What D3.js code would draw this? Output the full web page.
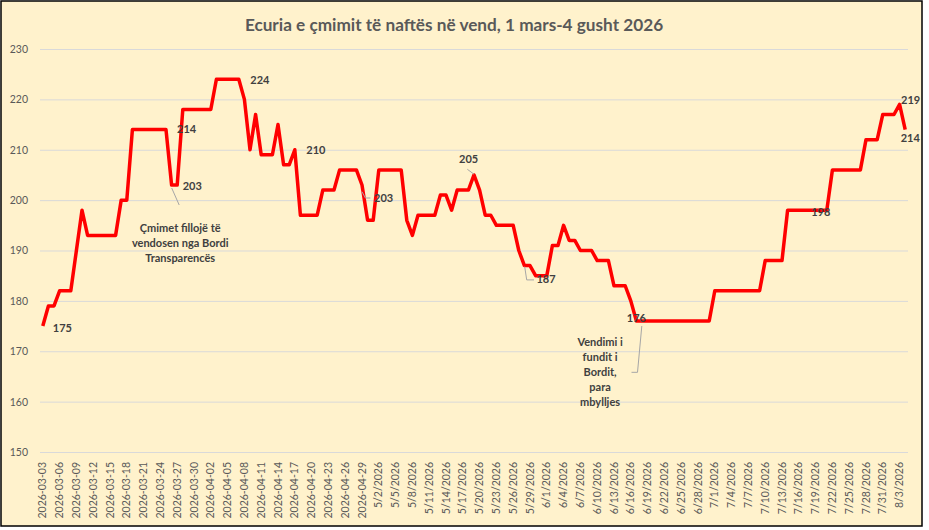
<!DOCTYPE html>
<html>
<head>
<meta charset="utf-8">
<script src="https://cdn.jsdelivr.net/npm/d3@7"></script>
<style>
  body { margin: 0; background: #fff; }
  text { font-family: Lato, "Open Sans", sans-serif; }
</style>
</head>
<body>
<div id="chart"></div>
<script>
const title = "Ecuria e çmimit të naftës në vend, 1 mars-4 gusht 2026";

// daily prices, 3 March - 4 August 2026
const prices = [
  175,179,179,182,182,182,190,198,193,193,
  193,193,193,193,200,200,214,214,214,214,
  214,214,214,203,203,218,218,218,218,218,
  218,224,224,224,224,224,220,210,217,209,
  209,209,215,207,207,210,197,197,197,197,
  202,202,202,206,206,206,206,203,196,196,
  206,206,206,206,206,196,193,197,197,197,
  197,201,201,198,202,202,202,205,202,197,
  197,195,195,195,195,190,187,187,185,185,
  185,191,191,195,192,192,190,190,190,188,
  188,188,183,183,183,180,176,176,176,176,
  176,176,176,176,176,176,176,176,176,176,
  182,182,182,182,182,182,182,182,182,188,
  188,188,188,198,198,198,198,198,198,198,
  198,206,206,206,206,206,206,212,212,212,
  217,217,217,219,214
];

const tickLabels = [
  "2026-03-03","2026-03-06","2026-03-09","2026-03-12","2026-03-15","2026-03-18",
  "2026-03-21","2026-03-24","2026-03-27","2026-03-30","2026-04-02","2026-04-05",
  "2026-04-08","2026-04-11","2026-04-14","2026-04-17","2026-04-20","2026-04-23",
  "2026-04-26","2026-04-29","5/2/2026","5/5/2026","5/8/2026","5/11/2026",
  "5/14/2026","5/17/2026","5/20/2026","5/23/2026","5/26/2026","5/29/2026",
  "6/1/2026","6/4/2026","6/7/2026","6/10/2026","6/13/2026","6/16/2026",
  "6/19/2026","6/22/2026","6/25/2026","6/28/2026","7/1/2026","7/4/2026",
  "7/7/2026","7/10/2026","7/13/2026","7/16/2026","7/19/2026","7/22/2026",
  "7/25/2026","7/28/2026","7/31/2026","8/3/2026"
];

const yTicks = [150, 160, 170, 180, 190, 200, 210, 220, 230];

// which points carry a value label
const labelIdx = [0, 22, 24, 35, 45, 57, 77, 86, 106, 140, 153, 154];

const note1 = ["Çmimet fillojë të", "vendosen nga Bordi", "Transparencës"];
const note2 = ["Vendimi i", "fundit i", "Bordit,", "para", "mbylljes"];

const W = 929, H = 530;
const plot = {left: 40, right: 908, top: 49, bottom: 452};

const start = new Date(Date.UTC(2026, 2, 3));
const dates = prices.map((_, i) => d3.utcDay.offset(start, i));

const svg = d3.select("#chart").append("svg")
    .attr("width", W).attr("height", H);

svg.append("rect")
    .attr("x", 1).attr("y", 1).attr("width", 921).attr("height", 525)
    .attr("fill", "#FFF2CC").attr("stroke", "#000").attr("stroke-width", 1.5);

const x = d3.scaleUtc()
    .domain([d3.utcHour.offset(dates[0], -12), d3.utcHour.offset(dates[dates.length - 1], 12)])
    .range([plot.left, plot.right]);

const y = d3.scaleLinear()
    .domain([150, 230])
    .range([plot.bottom, plot.top]);

// gridlines + y labels
const yAxis = svg.append("g")
    .attr("transform", `translate(${plot.left},0)`)
    .call(d3.axisLeft(y).tickValues(yTicks).tickSize(-(plot.right - plot.left)).tickPadding(12));
yAxis.select(".domain").remove();
yAxis.selectAll("line").attr("stroke", "#d9d9d9").attr("stroke-width", 1);
yAxis.selectAll("text")
    .attr("fill", "#595959").style("font-size", "10.5px");

// x labels, every third day
const tickDates = dates.filter((d, i) => i % 3 === 0);
svg.append("g").selectAll("text")
  .data(tickDates)
  .enter().append("text")
    .attr("transform", d => `translate(${x(d)},462)rotate(-90)`)
    .attr("dy", "0.35em")
    .attr("text-anchor", "end")
    .attr("fill", "#595959")
    .style("font-size", "10.5px")
    .text((d, i) => tickLabels[i]);

svg.append("text")
    .attr("x", 454).attr("y", 31)
    .attr("text-anchor", "middle")
    .attr("fill", "#595959")
    .style("font-size", "17.2px").style("font-weight", "bold")
    .text(title);

const line = d3.line()
    .x((d, i) => x(dates[i]))
    .y(d => y(d));

svg.append("path")
    .datum(prices)
    .attr("fill", "none")
    .attr("stroke", "#FF0000")
    .attr("stroke-width", 3.5)
    .attr("stroke-linejoin", "round")
    .attr("d", line);

// label placement relative to its point: [dx, dy, anchor]
const labelPos = {
  0: [10, 2, "start"], 22: [11, 0, "start"], 24: [5.5, 1.5, "start"],
  35: [11.5, 1, "start"], 45: [11.5, 0, "start"], 57: [12, 13, "start"],
  77: [-15, -15.7, "start"], 86: [12, 14, "start"], 106: [0, -3, "middle"],
  140: [-15.6, 1.7, "start"], 153: [1.5, -4.4, "start"], 154: [-4.5, 8.7, "start"]
};

const px = i => x(dates[i]), py = i => y(prices[i]);

// leader lines
const leaders = [
  [[px(24) - 5.5, py(24) + 3], [px(24) + 2, py(24) + 20]],
  [[px(57), py(57) + 6.7], [px(57) + 3.4, py(57) + 13], [px(57) + 8.4, py(57) + 13]],
  [[px(77) - 6.7, py(77) - 5.7], [px(77), py(77) - 0.7]],
  [[px(86) + 0.3, py(86) + 1], [px(86) + 2.3, py(86) + 14.3], [px(86) + 9.6, py(86) + 14.3]],
  [[px(106) + 5.4, py(106) + 5], [px(106) + 1.1, py(106) + 51.3], [px(106) - 4.9, py(106) + 51.3]]
];
svg.append("g").selectAll("path")
  .data(leaders)
  .enter().append("path")
    .attr("d", d3.line())
    .attr("fill", "none")
    .attr("stroke", "#a6a6a6")
    .attr("stroke-width", 1);

svg.append("g").selectAll("text")
  .data(labelIdx)
  .enter().append("text")
    .attr("x", i => px(i) + labelPos[i][0])
    .attr("y", i => py(i) + labelPos[i][1])
    .attr("dy", "0.35em")
    .attr("text-anchor", i => labelPos[i][2])
    .attr("fill", "#404040")
    .style("font-size", "11px").style("font-weight", "bold")
    .text(i => prices[i]);

function note(lines, cx, cy) {
  svg.append("g").selectAll("text")
    .data(lines)
    .enter().append("text")
      .attr("x", cx)
      .attr("y", (d, k) => cy + k * 14.9)
      .attr("dy", "0.35em")
      .attr("text-anchor", "middle")
      .attr("fill", "#404040")
      .style("font-size", "11px").style("font-weight", "bold")
      .text(d => d);
}
note(note1, px(24) + 3, py(24) + 43.3);
note(note2, px(106) - 36.3, py(106) + 21.3);
</script>
</body>
</html>
